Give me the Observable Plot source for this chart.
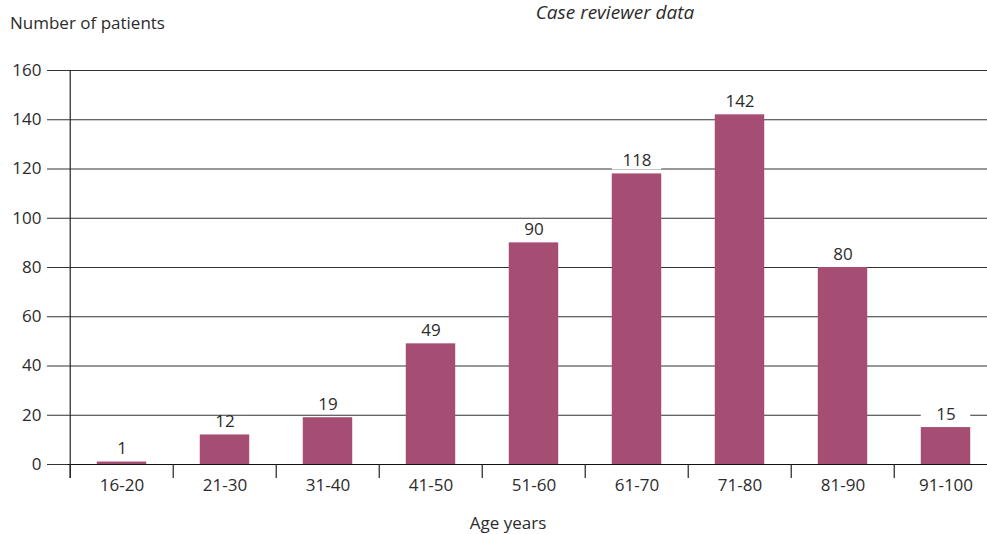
<!DOCTYPE html>
<html><head><meta charset="utf-8">
<script src="https://cdn.jsdelivr.net/npm/d3@7"></script>
<script src="https://cdn.jsdelivr.net/npm/@observablehq/plot@0.6"></script>
<style>
body{margin:0;background:#fff;font-family:"Open Sans",sans-serif;color:#2b2b2b}
#wrap{position:relative;width:987px;height:534px}
.t{position:absolute;white-space:nowrap;font-size:17px;line-height:1.2;color:#2b2b2b}
</style></head><body>
<div id="wrap">
<div class="t" style="left:10px;top:13px">Number of patients</div>
<div class="t" style="left:615px;top:3px;line-height:1.05;transform:translateX(-50%);font-style:italic;font-size:19px">Case reviewer data</div>
<div class="t" style="left:508px;top:513px;transform:translateX(-50%)">Age years</div>
<div id="chart"></div>
</div>
<script>
const categories = ["16-20","21-30","31-40","41-50","51-60","61-70","71-80","81-90","91-100"];
const patients = [1, 12, 19, 49, 90, 118, 142, 80, 15];
const yTicks = [0, 20, 40, 60, 80, 100, 120, 140, 160];

const data = categories.map((c, i) => ({age: c, n: patients[i]}));
const xRange = [67, 999];
const bw = (xRange[1] - xRange[0]) / categories.length;
const inset = (bw - 50) / 2;
const barColor = "#a64d73";

const chart = Plot.plot({
  width: 987, height: 534,
  marginTop: 70, marginBottom: 70, marginLeft: 67, marginRight: 0,
  style: {fontFamily: "Open Sans, sans-serif", fontSize: "16px", color: "#2b2b2b", background: "white", overflow: "visible"},
  x: {domain: categories, range: xRange, padding: 0},
  y: {domain: [0, 160]},
  marks: [
    Plot.gridY(yTicks.filter(d => d > 0), {stroke: "#333", strokeOpacity: 1, strokeWidth: 1}),
    Plot.axisY({ticks: yTicks, tickSize: 20, tickPadding: 6, stroke: "#333", label: null, fontSize: 17}),
    Plot.axisX({tickSize: 0, tickPadding: 14, label: null, fontSize: 17}),
    Plot.barY(data, {x: "age", y1: d => d.n + 7.5, y2: "n", insetLeft: inset, insetRight: inset, insetBottom: 4, fill: "white"}),
    Plot.barY(data, {x: "age", y: "n", insetLeft: inset, insetRight: inset, fill: barColor}),
    Plot.ruleY([0], {stroke: "#111", strokeWidth: 1.2}),
    Plot.ruleX(data, {x: "age", dx: -bw / 2, y1: -5.7, y2: 0, stroke: "#222", strokeWidth: 1.2}),
    Plot.ruleX(data.slice(0, 1), {x: "age", dx: -bw / 2, y1: -5.7, y2: 160, stroke: "#222", strokeWidth: 1.2}),
    Plot.text(data, {x: "age", y: "n", text: d => String(d.n), dy: -13, fontSize: 17, fill: "#2b2b2b"})
  ]
});
document.getElementById("chart").appendChild(chart);
</script>
</body></html>
